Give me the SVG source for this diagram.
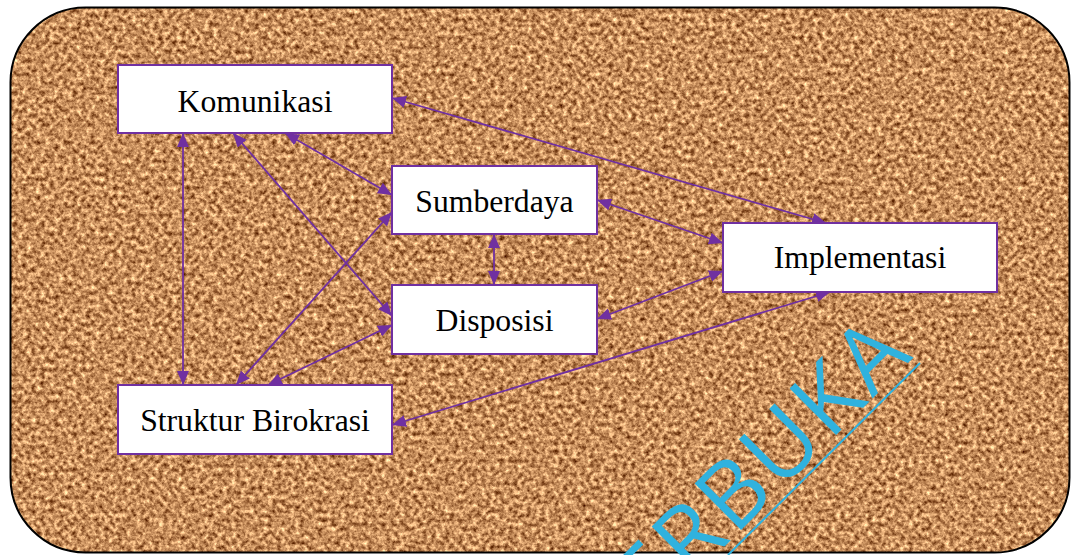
<svg xmlns="http://www.w3.org/2000/svg" width="1071" height="555" viewBox="0 0 1071 555">
  <defs>
    <filter id="cork" x="0" y="0" width="100%" height="100%" color-interpolation-filters="sRGB">
      <feTurbulence type="fractalNoise" baseFrequency="0.22" numOctaves="4" seed="7" result="n"/>
      <feColorMatrix in="n" type="matrix" values="1.15 0 0 0 0.2  1.15 0 0 0 -0.02  1.0 0 0 0 -0.14  0 0 0 0 1" result="c"/>
      <feComposite in="c" in2="SourceGraphic" operator="in"/>
    </filter>
    <marker id="ah" viewBox="0 0 14 12" refX="14" refY="6" markerWidth="14" markerHeight="12" markerUnits="userSpaceOnUse" orient="auto-start-reverse">
      <path d="M0,0 L14,6 L0,12 z" fill="#7030A0"/>
    </marker>
    <style>
      .node rect { fill: #ffffff; stroke: #7030A0; stroke-width: 2; }
      .node text { font-family: "Liberation Serif", "Times New Roman", serif; font-size: 31.7px; fill: #000; text-anchor: middle; }
      #connectors line { stroke: #7030A0; stroke-width: 1.8; marker-start: url(#ah); marker-end: url(#ah); }
      .wm { font-family: "Open Sans", "DejaVu Sans", sans-serif; font-size: 92px; letter-spacing: 4px; fill: #30b2de; }
    </style>
  </defs>

  <g id="background">
    <rect x="10.5" y="7.5" width="1059" height="545" rx="75" ry="75" fill="#c89060" filter="url(#cork)"/>
    <rect x="10.5" y="7.5" width="1059" height="545" rx="75" ry="75" fill="none" stroke="#000" stroke-width="2"/>
  </g>

  <g id="watermark">
    <text class="wm" transform="translate(652.8,618.2) rotate(-45)">ERBUKA</text>
    <line x1="920" y1="363" x2="728" y2="555" stroke="#30b2de" stroke-width="2"/>
  </g>

  <g id="connectors">
    <line x1="183" y1="133" x2="183" y2="385"/>
    <line x1="233" y1="133" x2="392" y2="316"/>
    <line x1="285" y1="133" x2="392" y2="195"/>
    <line x1="236" y1="385" x2="392" y2="212"/>
    <line x1="268" y1="385" x2="392" y2="325"/>
    <line x1="392" y1="98" x2="826" y2="223"/>
    <line x1="597" y1="200" x2="723" y2="243"/>
    <line x1="597" y1="319" x2="723" y2="271"/>
    <line x1="494" y1="234" x2="494" y2="285"/>
    <line x1="392" y1="425" x2="830" y2="292"/>
  </g>

  <g id="komunikasi" class="node">
    <rect x="118" y="65" width="274" height="68"/>
    <text x="255" y="111.5">Komunikasi</text>
  </g>
  <g id="sumberdaya" class="node">
    <rect x="392" y="166" width="205" height="68"/>
    <text x="494.5" y="211.5">Sumberdaya</text>
  </g>
  <g id="disposisi" class="node">
    <rect x="392" y="285" width="205" height="69"/>
    <text x="494.5" y="330.5">Disposisi</text>
  </g>
  <g id="implementasi" class="node">
    <rect x="723" y="223" width="274" height="69"/>
    <text x="860" y="268">Implementasi</text>
  </g>
  <g id="struktur" class="node">
    <rect x="118" y="385" width="274" height="69"/>
    <text x="255" y="431">Struktur Birokrasi</text>
  </g>
</svg>
